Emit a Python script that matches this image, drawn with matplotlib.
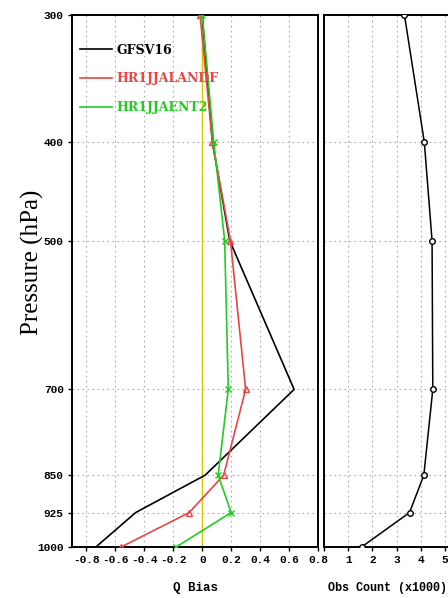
import matplotlib
matplotlib.use("Agg")
import matplotlib.pyplot as plt
from matplotlib.ticker import NullLocator

# ---- data ----
pressure = [300, 400, 500, 700, 850, 925, 1000]
gfsv16 = [0.0, 0.07, 0.19, 0.635, 0.02, -0.46, -0.735]
hr1jjalandf = [-0.015, 0.07, 0.195, 0.30, 0.148, -0.09, -0.56]
hr1jjaent2 = [0.0, 0.08, 0.155, 0.18, 0.11, 0.20, -0.18]
obs_count = [3.32, 4.14, 4.46, 4.49, 4.12, 3.53, 1.55]
series_names = ["GFSV16", "HR1JJALANDF", "HR1JJAENT2"]
x_ticks_bias = [-0.8, -0.6, -0.4, -0.2, 0, 0.2, 0.4, 0.6, 0.8]
x_ticklabels_bias = ["-0.8", "-0.6", "-0.4", "-0.2", "0", "0.2", "0.4", "0.6", "0.8"]
x_ticks_obs = [0, 1, 2, 3, 4, 5]
x_ticklabels_obs = ["", "1", "2", "3", "4", "5"]
y_ticklabels = ["300", "400", "500", "700", "850", "925", "1000"]

colors = ["black", "#e84545", "#22cc22"]
markers = [None, "^", "x"]

fig = plt.figure(figsize=(4.48, 5.98), dpi=100)
W, H = 448, 598
def rect(x0, y0, x1, y1):
    return [x0 / W, 1 - y1 / H, (x1 - x0) / W, (y1 - y0) / H]

ax = fig.add_axes(rect(72, 15, 318, 547))
ax2 = fig.add_axes(rect(324, 15, 450, 547))

tickfont = dict(family="Liberation Mono", weight="bold", size=8)

for a in (ax, ax2):
    a.set_yscale("log")
    a.set_ylim(1000, 300)
    a.yaxis.set_minor_locator(NullLocator())
    a.set_yticks(pressure)
    a.grid(True, which="major", linestyle=(0, (1.5, 3)), color="#aaaaaa", linewidth=0.8)
    a.set_axisbelow(True)
    for s in a.spines.values():
        s.set_linewidth(1.4)
    a.tick_params(direction="out", length=3, width=1, pad=3)

ax.set_yticklabels(y_ticklabels, fontdict=tickfont)
ax2.set_yticklabels([])
ax2.tick_params(axis="y", length=0)

# main panel
ax.axvline(0, color="#d8c400", linewidth=1.0, zorder=1.5)
series = [gfsv16, hr1jjalandf, hr1jjaent2]
for name, vals, c, m in zip(series_names, series, colors, markers):
    ax.plot(vals, pressure, color=c, linewidth=1.2, marker=m, markersize=4,
            markerfacecolor="none", markeredgecolor=c, markeredgewidth=1.0, label=name, zorder=3)
ax.set_xlim(-0.9, 0.8)
ax.set_xticks(x_ticks_bias)
ax.set_xticklabels(x_ticklabels_bias, fontdict=tickfont)
ax.set_xlabel("Q Bias", fontdict=dict(family="Liberation Mono", weight="bold", size=9), labelpad=12)
ax.set_ylabel("Pressure (hPa)", fontdict=dict(family="Liberation Serif", size=18))
ax.yaxis.set_label_coords(-0.115, 0.535)

leg = ax.legend(loc="upper left", frameon=False, handlelength=2.6, handletextpad=0.35,
                labelspacing=1.25, borderaxespad=0.2, bbox_to_anchor=(0.0, 0.96),
                prop=dict(family="DejaVu Serif", weight="bold", size=9))
for line in leg.get_lines():
    line.set_marker("")
for t, c in zip(leg.get_texts(), colors):
    t.set_color(c)

# obs count panel
ax2.plot(obs_count, pressure, color="black", linewidth=1.1, marker="o", markersize=4,
         markerfacecolor="white", markeredgecolor="black", markeredgewidth=1.0, zorder=3)
ax2.set_xlim(0, 5.2)
ax2.set_xticks(x_ticks_obs)
ax2.set_xticklabels(x_ticklabels_obs, fontdict=tickfont)
ax2.set_xlabel("Obs Count (x1000)", fontdict=dict(family="Liberation Mono", weight="bold", size=8.5), labelpad=12)

fig.savefig("out.png", dpi=100)
